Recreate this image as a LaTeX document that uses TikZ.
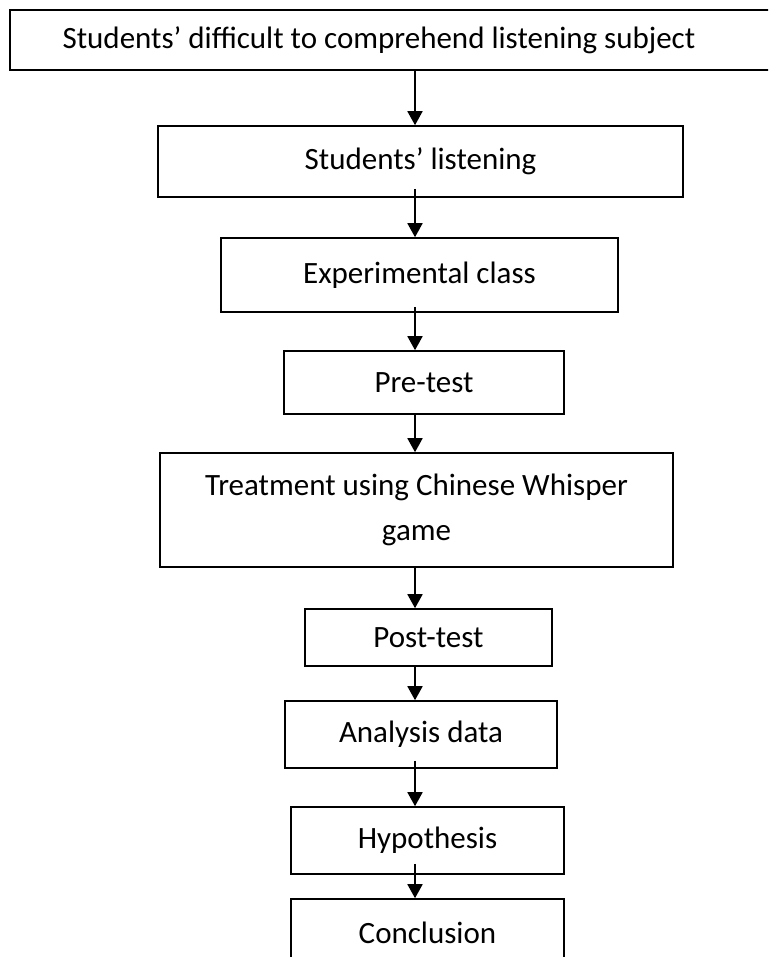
\documentclass[tikz,border=0pt]{standalone}
\usepackage{fontspec}
\setmainfont{Carlito}
\usetikzlibrary{arrows.meta}
\begin{document}
\begin{tikzpicture}[x=1pt,y=-1pt,
  box/.style={draw=black, line width=1.6pt, rectangle, inner sep=0pt, align=center,
    font=\fontsize{31}{45}\selectfont},
  txt/.style={inner sep=0pt, align=center, font=\fontsize{31}{45}\selectfont},
  arr/.style={line width=1.8pt, -{Triangle[width=15pt,length=14pt]}}]
\useasboundingbox (0,0) rectangle (768,957);
\clip (0,0) rectangle (768,957);
\fill[white] (0,0) rectangle (768,957);
\coordinate (ax) at (415,0);
\node[box, minimum width=790pt, minimum height=60pt] (b1) at (405,40) {};
\node[txt] (t1) at (379,40) {Students’ difficult to comprehend listening subject};
\node[box, minimum width=525pt, minimum height=71pt] (b2) at (420.5,161.5) {Students’ listening};
\node[box, minimum width=397pt, minimum height=74pt] (b3) at (419.5,275) {Experimental class};
\node[box, minimum width=280pt, minimum height=63pt] (b4) at (424,382.5) {Pre-test};
\node[box, minimum width=513pt, minimum height=114pt] (b5) at (416.5,510) {Treatment using Chinese Whisper\\game};
\node[box, minimum width=247pt, minimum height=57pt] (b6) at (428.5,637.5) {Post-test};
\node[box, minimum width=272pt, minimum height=67pt] (b7) at (421,734.5) {Analysis data};
\node[box, minimum width=273pt, minimum height=67pt] (b8) at (427.5,840.5) {Hypothesis};
\node[box, minimum width=273pt, minimum height=67pt] (b9) at (427.5,932.5) {Conclusion};
\draw[arr] (b1.south -| ax) -- (b2.north -| ax);
\draw[arr] ([yshift=9pt]b2.south -| ax) -- (b3.north -| ax);
\draw[arr] ([yshift=6pt]b3.south -| ax) -- (b4.north -| ax);
\draw[arr] (b4.south -| ax) -- (b5.north -| ax);
\draw[arr] (b5.south -| ax) -- (b6.north -| ax);
\draw[arr] (b6.south -| ax) -- (b7.north -| ax);
\draw[arr] ([yshift=8pt]b7.south -| ax) -- (b8.north -| ax);
\draw[arr] ([yshift=11pt]b8.south -| ax) -- (b9.north -| ax);
\end{tikzpicture}
\end{document}
